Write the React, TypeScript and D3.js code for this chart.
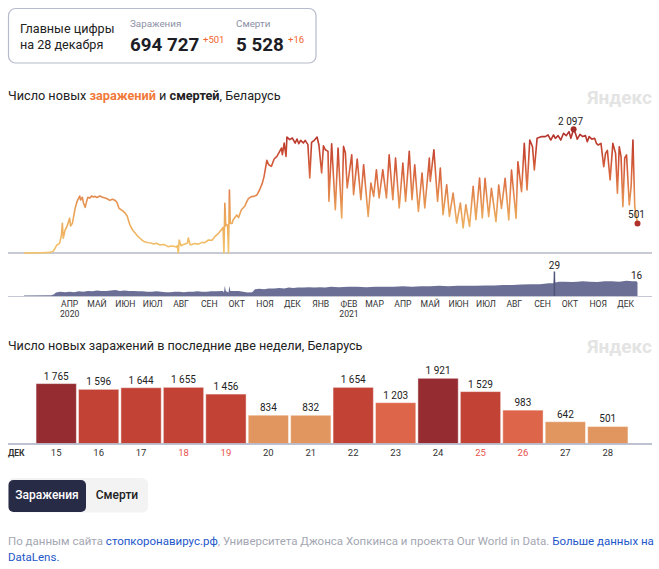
import React from "react";
import * as d3 from "d3";

// ---------- DATA ----------
const START = new Date(2020, 1, 25);
const END = new Date(2021, 11, 28);

const newCases: [number, number][] = [
  [0, 0], [10, 2], [20, 5], [28, 10], [32, 30], [34, 80], [36, 136], [39, 164], [41, 305], [42, 503], [43, 249],
  [45, 390], [47, 446], [50, 588], [51, 458], [53, 503], [56, 757], [58, 870], [61, 966], [62, 898], [64, 944],
  [65, 853], [67, 774], [69, 898], [70, 944], [72, 930], [74, 966], [76, 950], [78, 960], [80, 940], [83, 966],
  [86, 945], [89, 933], [91, 920], [94, 893], [97, 910], [100, 890], [102, 853], [104, 757], [107, 729], [109, 700],
  [111, 672], [113, 627], [116, 475], [119, 390], [122, 333], [125, 277], [127, 250], [129, 220], [131, 200],
  [133, 186], [136, 175], [139, 170], [142, 153], [145, 165], [149, 136], [153, 145], [156, 125], [158, 107],
  [161, 120], [164, 115], [167, 100], [168, 124], [169, 0], [170, 220], [172, 124], [174, 141], [177, 158],
  [179, 169], [180, 254], [182, 141], [183, 140], [187, 160], [191, 150], [195, 180], [198, 175], [202, 220],
  [206, 215], [209, 277], [213, 333], [216, 390], [218, 435], [219, 0], [220, 842], [221, 460], [222, 480],
  [223, 470], [224, 0], [225, 1068], [226, 500], [228, 503], [229, 560], [233, 644], [235, 600], [238, 729],
  [242, 797], [244, 870], [246, 927], [249, 955], [252, 960], [255, 983], [258, 1068], [261, 1181], [263, 1299],
  [266, 1570], [268, 1497], [271, 1469], [274, 1593], [277, 1638], [279, 1694], [282, 1779], [283, 1666],
  [285, 1864], [287, 1638], [288, 1966], [291, 1921], [294, 1949], [297, 1864], [299, 1932], [301, 1853],
  [303, 1910], [306, 1864], [308, 1910], [311, 1836], [313, 1271], [315, 1875], [318, 1910], [321, 1966],
  [323, 1836], [326, 1356], [328, 1818], [330, 1751], [333, 1723], [334, 876], [337, 1853], [341, 735],
  [344, 1779], [348, 593], [350, 1807], [352, 1700], [354, 1102], [359, 1666], [361, 989], [365, 1592],
  [369, 904], [372, 1497], [377, 621], [380, 1186], [383, 960], [386, 1412], [389, 932], [393, 1412], [397, 932],
  [400, 1666], [404, 904], [407, 1610], [411, 763], [415, 1525], [418, 876], [422, 1723], [425, 904], [428, 1497],
  [432, 706], [436, 1356], [439, 763], [444, 1610], [445, 1215], [449, 1751], [453, 876], [456, 1440], [459, 650],
  [463, 1158], [466, 621], [470, 1017], [474, 508], [478, 848], [481, 424], [484, 819], [488, 452], [492, 1130],
  [495, 565], [499, 1271], [502, 593], [505, 1266], [509, 616], [512, 1096], [517, 531], [520, 1153], [523, 757],
  [527, 1266], [531, 559], [534, 1407], [539, 588], [541, 1548], [545, 1039], [548, 1859], [551, 1068],
  [554, 1915], [557, 1802], [559, 1407], [562, 1944], [567, 1973], [571, 1973], [574, 2001], [577, 1915],
  [580, 2001], [582, 1944], [585, 1990], [588, 1915], [591, 2029], [594, 1990], [597, 2057], [599, 1944],
  [602, 2097], [604, 2029], [606, 1930], [609, 2010], [612, 1973], [615, 1990], [617, 1887], [619, 1973],
  [622, 1930], [625, 1944], [627, 1859], [629, 1830], [632, 1859], [635, 1463], [637, 1689], [639, 1740],
  [642, 1237], [645, 1859], [648, 1689], [650, 1012], [652, 1802], [654, 1633], [656, 785], [658, 1610],
  [660, 1661], [663, 813], [665, 1124], [667, 1915], [669, 785], [672, 501],
];

// daily deaths (day offset, value)
const newDeaths: [number, number][] = [
  [0, 0.5], [30, 1], [33, 2], [35, 4], [40, 5], [45, 4.5], [50, 5], [55, 4.5], [60, 5.5], [65, 5], [70, 6],
  [75, 5.5], [80, 6.5], [85, 6], [90, 6], [95, 6.5], [100, 7], [105, 6], [110, 6.5], [115, 6], [120, 6],
  [125, 5.5], [130, 5.5], [135, 5], [140, 5], [145, 5.5], [150, 5], [155, 4.5], [160, 4.5], [165, 5], [170, 5],
  [175, 4.5], [180, 5], [185, 5], [190, 5.5], [195, 5], [200, 5], [205, 5.5], [210, 5.5], [218, 6], [219, 4],
  [220, 12], [221, 6], [224, 4], [225, 12], [226, 6], [230, 6], [235, 6], [240, 5], [245, 4], [250, 4.5],
  [253, 8], [258, 8.5], [263, 8], [268, 9], [274, 9], [280, 9.5], [285, 9], [290, 10], [295, 9.5], [300, 10],
  [306, 10], [312, 10.5], [318, 10], [324, 10.5], [330, 10], [336, 11], [345, 10.5], [355, 11], [365, 11],
  [375, 10.5], [385, 11], [395, 11], [405, 11], [415, 11.5], [425, 11], [435, 11.5], [445, 11.5], [455, 12],
  [465, 11.5], [475, 12], [485, 12], [495, 12], [505, 12.5], [515, 12.5], [525, 13], [535, 13], [545, 13.5],
  [555, 14], [565, 14], [575, 15], [580, 15], [581, 29], [582, 16], [586, 17], [592, 17], [600, 16.5],
  [606, 17], [612, 17.5], [620, 17], [628, 16.5], [636, 17.5], [644, 17.5], [652, 17], [660, 18], [666, 17.5],
  [671, 17.5], [672, 16],
];

const monthNames = ["ЯНВ", "ФЕВ", "МАР", "АПР", "МАЙ", "ИЮН", "ИЮЛ", "АВГ", "СЕН", "ОКТ", "НОЯ", "ДЕК"];

const barDays = [15, 16, 17, 18, 19, 20, 21, 22, 23, 24, 25, 26, 27, 28];
const barValues = [1765, 1596, 1644, 1655, 1456, 834, 832, 1654, 1203, 1921, 1529, 983, 642, 501];
const weekendDays = [18, 19, 25, 26];

const totalCases = 694727;
const deltaCases = 501;
const totalDeaths = 5528;
const deltaDeaths = 16;

// ---------- STYLE ----------
const FONT = 'Roboto, "Noto Sans", sans-serif';
const ru = d3.formatLocale({ decimal: ",", thousands: "\u00a0", grouping: [3], currency: ["", ""] });
const fmt = ru.format(",d");

export default function App() {
  const x = d3.scaleTime().domain([START, END]).range([24, 637.5]);
  const dayX = (d: number) => x(d3.timeDay.offset(START, d));
  const yC = d3.scaleLinear().domain([0, 2097]).range([253, 129.3]);
  const yD = d3.scaleLinear().domain([0, 29]).range([296, 271.5]);

  const linePath = d3.line<[number, number]>().x((d) => dayX(d[0])).y((d) => yC(d[1]))(newCases) || "";
  const areaPath =
    d3.area<[number, number]>().x((d) => dayX(d[0])).y0(yD(0)).y1((d) => yD(d[1]))(newDeaths) || "";

  const months = d3.timeMonth.range(new Date(2020, 3, 1), new Date(2022, 0, 1));

  const maxPt = newCases.reduce((a, b) => (b[1] > a[1] ? b : a));
  const lastPt = newCases[newCases.length - 1];
  const maxD = newDeaths.reduce((a, b) => (b[1] > a[1] ? b : a));
  const lastD = newDeaths[newDeaths.length - 1];

  const xb = d3.scaleBand<number>().domain(barDays).range([35, 629]).paddingInner(0.05).paddingOuter(0.025);
  const yb = d3.scaleLinear().domain([0, 1921]).range([443.5, 378.3]);
  const barColor = d3
    .scaleThreshold<number, string>()
    .domain([900, 1400, 1700])
    .range(["#e2965f", "#dd6549", "#c24236", "#942c32"]);

  return (
    <svg width={659} height={569} style={{ position: "absolute", left: 0, top: 0, fontFamily: FONT }}>
      <defs>
        <linearGradient id="caseGrad" gradientUnits="userSpaceOnUse" x1={0} x2={0} y1={yC(0)} y2={yC(2097)}>
          <stop offset="0" stopColor="#f3c46b" />
          <stop offset="0.3" stopColor="#eba65a" />
          <stop offset="0.45" stopColor="#e48c50" />
          <stop offset="0.65" stopColor="#d8653f" />
          <stop offset="0.85" stopColor="#c4432f" />
          <stop offset="1" stopColor="#ac2d2a" />
        </linearGradient>
      </defs>

      {/* header card */}
      <rect x={8.5} y={8.5} width={307.5} height={54.5} rx={7} fill="none" stroke="#b7bbcb" strokeWidth={1.2} />
      <text x={20} y={33} fontSize={12.6} fill="#222">Главные цифры</text>
      <text x={20} y={48.5} fontSize={12.6} fill="#222">на 28 декабря</text>
      <text x={130} y={27} fontSize={9.8} fill="#8d91a6">Заражения</text>
      <text x={130} y={50.5} fontSize={18.8} fontWeight={700} fill="#1d1d26">{fmt(totalCases)}</text>
      <text x={203} y={43} fontSize={9.5} fill="#f0642d">+{fmt(deltaCases)}</text>
      <text x={236} y={27} fontSize={9.8} fill="#8d91a6">Смерти</text>
      <text x={236} y={50.5} fontSize={18.8} fontWeight={700} fill="#1d1d26">{fmt(totalDeaths)}</text>
      <text x={288} y={43} fontSize={9.5} fill="#f0642d">+{fmt(deltaDeaths)}</text>

      {/* title 1 */}
      <text x={8} y={100} fontSize={12.7} fill="#222">
        Число новых <tspan fill="#f07a3a" fontWeight={700}>заражений</tspan> и{" "}
        <tspan fontWeight={700}>смертей</tspan>, Беларусь
      </text>
      <text x={652} y={104} fontSize={19} fontWeight={700} fill="#e4e4e4" textAnchor="end">Яндекс</text>

      {/* cases line */}
      <line x1={8} x2={652} y1={253} y2={253} stroke="#b5b8c6" strokeWidth={1.5} />
      <path d={linePath} fill="none" stroke="url(#caseGrad)" strokeWidth={1.6} strokeLinejoin="round" />
      <circle cx={dayX(maxPt[0])} cy={yC(maxPt[1])} r={3} fill="#a5302b" />
      <text x={dayX(maxPt[0]) - 3} y={124.5} fontSize={10} fill="#222" textAnchor="middle">{fmt(maxPt[1])}</text>
      <circle cx={dayX(lastPt[0])} cy={yC(lastPt[1])} r={3} fill="#b0302b" />
      <text x={dayX(lastPt[0]) - 1} y={218} fontSize={10} fill="#222" textAnchor="middle">{fmt(lastPt[1])}</text>

      {/* deaths area */}
      <path d={areaPath} fill="#6b6f96" />
      <line x1={8} x2={652} y1={296.5} y2={296.5} stroke="#c4c6d2" strokeWidth={1} />
      <line x1={dayX(maxD[0])} x2={dayX(maxD[0])} y1={yD(0)} y2={yD(maxD[1])} stroke="#4f5378" strokeWidth={1.5} />
      <text x={dayX(maxD[0])} y={269} fontSize={10} fill="#222" textAnchor="middle">{maxD[1]}</text>
      <text x={dayX(lastD[0]) - 1} y={279} fontSize={10} fill="#222" textAnchor="middle">{lastD[1]}</text>

      {/* month labels */}
      {months.map((m, i) => {
        const cx = x(d3.timeDay.offset(m, 14));
        const mo = m.getMonth();
        const showYear = i === 0 || mo === 1;
        return (
          <g key={i}>
            <text x={cx} y={307} fontSize={8.6} fill="#333" textAnchor="middle">{monthNames[mo]}</text>
            {showYear && (
              <text x={cx} y={316.5} fontSize={8.6} fill="#333" textAnchor="middle">{m.getFullYear()}</text>
            )}
          </g>
        );
      })}

      {/* title 2 */}
      <text x={8} y={349.5} fontSize={12.6} fill="#222">Число новых заражений в последние две недели, Беларусь</text>
      <text x={652} y={353} fontSize={19} fontWeight={700} fill="#e4e4e4" textAnchor="end">Яндекс</text>

      {/* bars */}
      {barDays.map((d, i) => {
        const v = barValues[i];
        const bx = xb(d) as number;
        return (
          <g key={d}>
            <rect
              x={bx}
              y={yb(v)}
              width={xb.bandwidth()}
              height={yb(0) - yb(v)}
              fill={barColor(v)}
              stroke="#ffffff"
              strokeOpacity={0.45}
              strokeWidth={1}
            />
            <text x={bx + xb.bandwidth() / 2} y={yb(v) - 4} fontSize={10} fill="#222" textAnchor="middle">
              {fmt(v)}
            </text>
            <text
              x={bx + xb.bandwidth() / 2}
              y={455.5}
              fontSize={9.5}
              fill={weekendDays.includes(d) ? "#e8504b" : "#333"}
              textAnchor="middle"
            >
              {d}
            </text>
          </g>
        );
      })}
      <line x1={8} x2={652} y1={444} y2={444} stroke="#a9acc0" strokeWidth={1.5} />
      <text x={8} y={455.5} fontSize={8.5} fontWeight={700} fill="#333">ДЕК</text>

      {/* toggle buttons */}
      <rect x={8} y={478} width={140} height={34.5} rx={6} fill="#f3f3f4" />
      <rect x={8.5} y={480} width={77.5} height={32} rx={5} fill="#282b46" />
      <text x={47} y={498.5} fontSize={12} fontWeight={500} fill="#fff" textAnchor="middle">Заражения</text>
      <text x={117} y={498.5} fontSize={12} fontWeight={500} fill="#222" textAnchor="middle">Смерти</text>

      {/* footer */}
      <text x={8} y={545} fontSize={11.5} fill="#a4a7b3">
        По данным сайта <tspan fill="#2356c9">стопкоронавирус.рф</tspan>, Университета Джонса Хопкинса и проекта
        Our World in Data. <tspan fill="#2356c9">Больше данных на</tspan>
      </text>
      <text x={8} y={561} fontSize={11.5} fill="#2356c9">DataLens.</text>
    </svg>
  );
}
